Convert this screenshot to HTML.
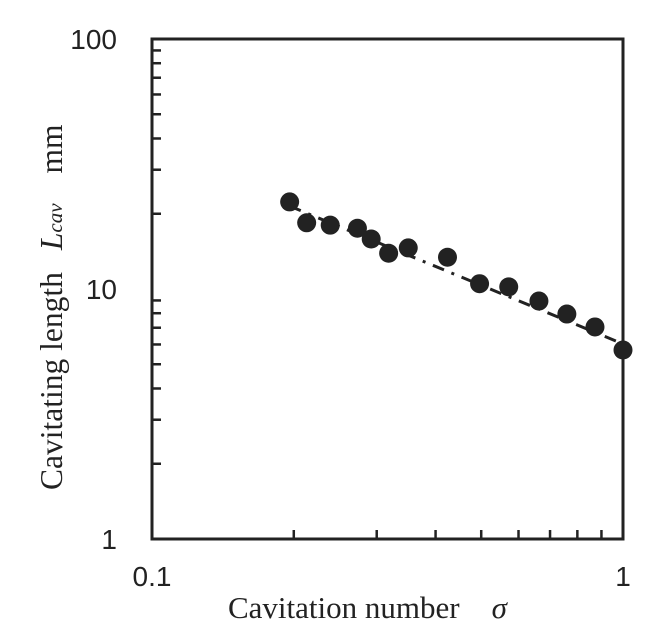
<!DOCTYPE html>
<html><head><meta charset="utf-8"><style>
body{margin:0;background:#fff;}
svg{display:block;}
</style></head><body>
<svg id="chart" width="670" height="629" viewBox="0 0 670 629" xmlns="http://www.w3.org/2000/svg"></svg>
<script>
const sigmaValues=[0.196,0.213,0.239,0.273,0.292,0.318,0.350,0.424,0.496,0.572,0.663,0.760,0.872,1.0];
const lengthValues=[22.3,18.4,18.0,17.5,15.85,13.9,14.6,13.4,10.5,10.2,8.95,7.94,7.05,5.7];
const fitCoef=[6.03,-0.779];
const xTickLabels=["0.1","1"];
const yTickLabels=["1","10","100"];
const NS="http://www.w3.org/2000/svg";
const svg=document.getElementById('chart');
const L=152,R=623,T=39,B=539;
function xs(v){return L+(Math.log10(v)+1)*(R-L);}
function ys(v){return B-Math.log10(v)/2*(B-T);}
function mk(t,a,p){const e=document.createElementNS(NS,t);for(const k in a)e.setAttribute(k,a[k]);(p||svg).appendChild(e);return e;}
let fr=mk('rect',{x:L,y:T,width:R-L,height:B-T,fill:'none',stroke:'#222','stroke-width':3});


for(let d=0;d<2;d++)for(let m=2;m<10;m++){
 const v=Math.pow(10,d)*m;
 let t=mk('line',{x1:L,x2:L+9,y1:ys(v),y2:ys(v),stroke:'#222','stroke-width':2.5});
 
 
}
for(let m=2;m<10;m++){
 const v=0.1*m;
 let t=mk('line',{x1:xs(v),x2:xs(v),y1:B,y2:B-9,stroke:'#222','stroke-width':2.5});
 
 
}
xTickLabels.forEach(s=>{
 let t=mk('text',{x:xs(parseFloat(s)),y:586,'text-anchor':'middle','font-family':'Liberation Sans, sans-serif','font-size':28,fill:'#222'});
 t.textContent=s;
 
 
});
yTickLabels.forEach(s=>{
 let t=mk('text',{x:117,y:ys(parseFloat(s))+10,'text-anchor':'end','font-family':'Liberation Sans, sans-serif','font-size':28,fill:'#222'});
 t.textContent=s;
 
 
});
const x0=0.196,x1=1.0;
let fl=mk('line',{x1:xs(x0),y1:ys(fitCoef[0]*Math.pow(x0,fitCoef[1])),x2:xs(x1),y2:ys(fitCoef[0]*Math.pow(x1,fitCoef[1])),stroke:'#222','stroke-width':3,'stroke-dasharray':'12 8 3 8'});


sigmaValues.forEach((s,i)=>{
 let c=mk('circle',{cx:xs(s),cy:ys(lengthValues[i]),r:9.5,fill:'#222'});
 
 
});
let xt=mk('text',{x:228,y:618,'text-anchor':'start','font-family':'Liberation Serif, serif','font-size':31,fill:'#222'});
xt.innerHTML='Cavitation number<tspan dx="32" font-style="italic">σ</tspan>';


let yt=mk('text',{x:0,y:0,'text-anchor':'start','font-family':'Liberation Serif, serif','font-size':31.5,fill:'#222',transform:'translate(62,490) rotate(-90)'});
yt.innerHTML='Cavitating length<tspan dx="22" font-style="italic">L</tspan><tspan font-style="italic" font-size="21">cav</tspan><tspan dx="30">mm</tspan>';


</script>
</body></html>
